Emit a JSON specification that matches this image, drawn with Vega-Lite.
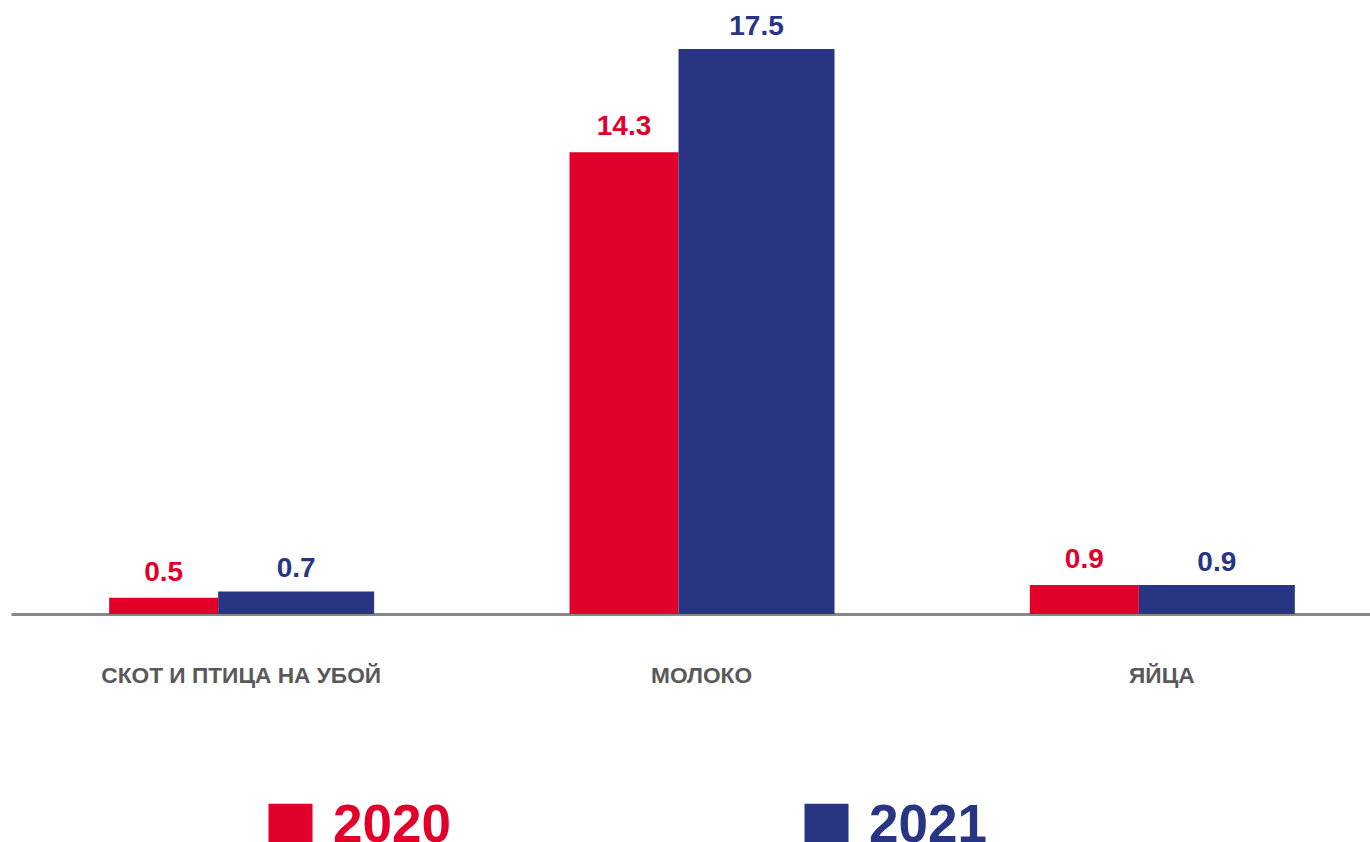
{
  "$schema": "https://vega.github.io/schema/vega-lite/v6.json",
  "autosize": "none",
  "width": 1381,
  "height": 565,
  "padding": {"left": 11, "top": 49, "right": 0, "bottom": 228},
  "background": "white",
  "config": {
    "view": {"stroke": null},
    "font": "Liberation Sans"
  },
  "data": {
    "values": [
      {"category": "СКОТ И ПТИЦА НА УБОЙ", "year": "2020", "value": 0.5},
      {"category": "СКОТ И ПТИЦА НА УБОЙ", "year": "2021", "value": 0.7},
      {"category": "МОЛОКО", "year": "2020", "value": 14.3},
      {"category": "МОЛОКО", "year": "2021", "value": 17.5},
      {"category": "ЯЙЦА", "year": "2020", "value": 0.9},
      {"category": "ЯЙЦА", "year": "2021", "value": 0.9}
    ]
  },
  "encoding": {
    "x": {
      "field": "category",
      "type": "nominal",
      "sort": null,
      "scale": {"paddingInner": 0, "paddingOuter": 0},
      "axis": {
        "title": null,
        "labelAngle": 0,
        "ticks": false,
        "labelPadding": 50,
        "labelFont": "Liberation Sans",
        "labelFontSize": 22.7,
        "labelFontWeight": "bold",
        "labelColor": "#595959",
        "labelLimit": 1000,
        "domainColor": "#888888",
        "domainWidth": 3
      }
    },
    "y": {
      "field": "value",
      "type": "quantitative",
      "scale": {"domain": [0, 17.5], "nice": false},
      "axis": null
    }
  },
  "layer": [
    {
      "transform": [{"filter": "datum.year === '2020'"}],
      "mark": {"type": "bar", "size": 109, "xOffset": -77.5},
      "encoding": {
        "color": {
          "field": "year",
          "type": "nominal",
          "scale": {"domain": ["2020", "2021"], "range": ["#E2002A", "#283583"]},
          "legend": {
            "title": null,
            "orient": "none",
            "direction": "horizontal",
            "legendX": 253,
            "legendY": 750,
            "symbolType": "square",
            "symbolSize": 1936,
            "symbolStrokeWidth": 0,
            "symbolOpacity": 1,
            "labelFont": "Liberation Sans",
            "labelFontSize": 53,
            "labelFontWeight": "bold",
            "labelOffset": 16,
            "columnPadding": 349,
            "padding": 0,
            "labelLimit": 400,
            "encode": {
              "labels": {"update": {"fill": {"signal": "datum.value === '2020' ? '#E2002A' : '#283583'"}}}
            }
          }
        }
      }
    },
    {
      "transform": [{"filter": "datum.year === '2021'"}],
      "mark": {"type": "bar", "size": 156, "xOffset": 55},
      "encoding": {
        "color": {"field": "year", "type": "nominal"}
      }
    },
    {
      "transform": [{"filter": "datum.year === '2020'"}],
      "mark": {"type": "text", "xOffset": -77.5, "dy": -17, "baseline": "alphabetic", "fontSize": 28, "fontWeight": "bold", "font": "Liberation Sans", "color": "#E2002A"},
      "encoding": {"text": {"field": "value", "type": "quantitative", "format": ".1f"}}
    },
    {
      "transform": [{"filter": "datum.year === '2021'"}],
      "mark": {"type": "text", "xOffset": 55, "dy": -14, "baseline": "alphabetic", "fontSize": 28, "fontWeight": "bold", "font": "Liberation Sans", "color": "#283583"},
      "encoding": {"text": {"field": "value", "type": "quantitative", "format": ".1f"}}
    }
  ]
}
